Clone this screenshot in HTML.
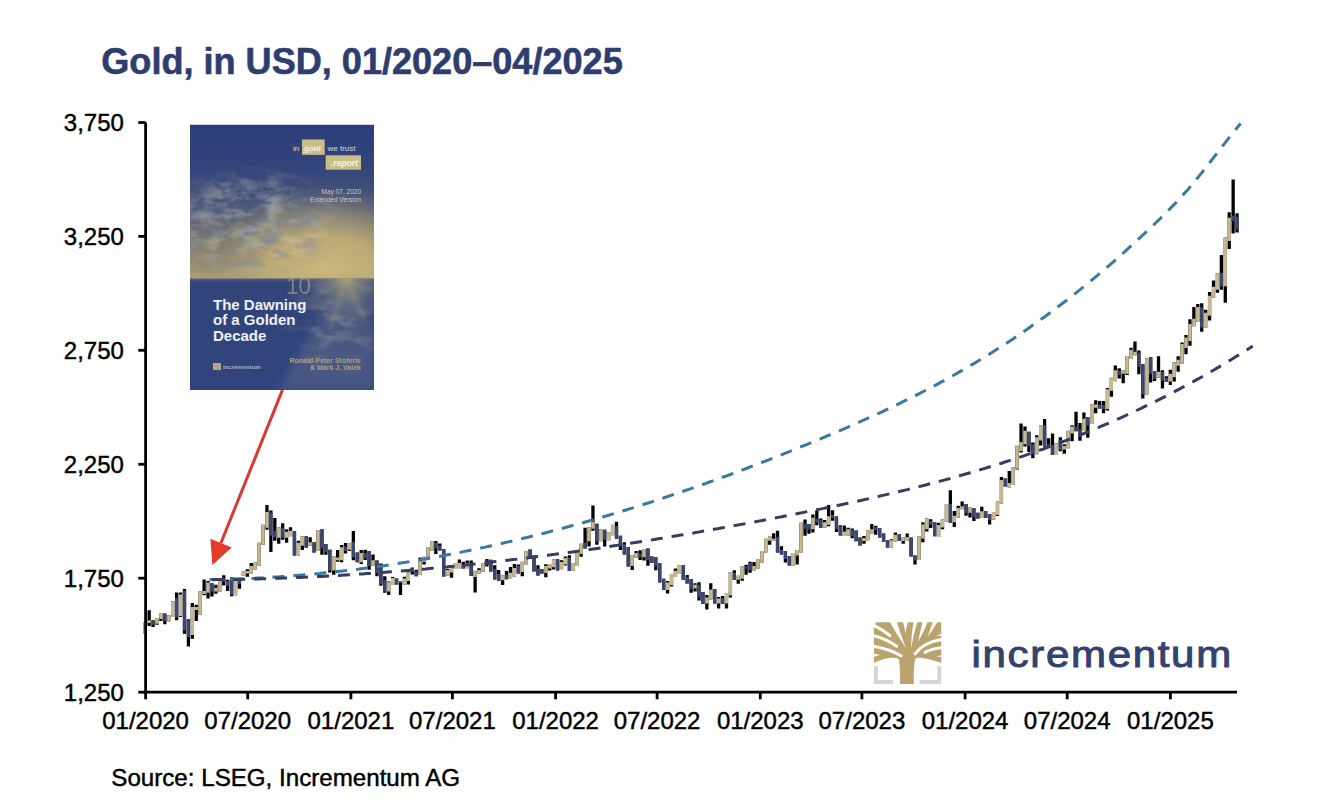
<!DOCTYPE html>
<html><head><meta charset="utf-8"><style>html,body{margin:0;padding:0;background:#fff}svg{display:block}</style></head>
<body>
<svg width="1338" height="806" viewBox="0 0 1338 806">
<rect width="1338" height="806" fill="#fff"/>
<text x="101.3" y="73.7" font-family="Liberation Sans" font-weight="bold" font-size="36.1" fill="#2f3d6e" stroke="#2f3d6e" stroke-width="0.6">Gold, in USD, 01/2020–04/2025</text>
<text x="123.9" y="131.0" text-anchor="end" font-family="Liberation Sans" font-size="24" fill="#000" stroke="#000" stroke-width="0.45">3,750</text>
<text x="123.9" y="244.9" text-anchor="end" font-family="Liberation Sans" font-size="24" fill="#000" stroke="#000" stroke-width="0.45">3,250</text>
<text x="123.9" y="358.8" text-anchor="end" font-family="Liberation Sans" font-size="24" fill="#000" stroke="#000" stroke-width="0.45">2,750</text>
<text x="123.9" y="472.8" text-anchor="end" font-family="Liberation Sans" font-size="24" fill="#000" stroke="#000" stroke-width="0.45">2,250</text>
<text x="123.9" y="586.7" text-anchor="end" font-family="Liberation Sans" font-size="24" fill="#000" stroke="#000" stroke-width="0.45">1,750</text>
<text x="123.9" y="700.7" text-anchor="end" font-family="Liberation Sans" font-size="24" fill="#000" stroke="#000" stroke-width="0.45">1,250</text>
<text x="145.6" y="728.8" text-anchor="middle" font-family="Liberation Sans" font-size="24" fill="#000" stroke="#000" stroke-width="0.45">01/2020</text>
<text x="247.7" y="728.8" text-anchor="middle" font-family="Liberation Sans" font-size="24" fill="#000" stroke="#000" stroke-width="0.45">07/2020</text>
<text x="350.9" y="728.8" text-anchor="middle" font-family="Liberation Sans" font-size="24" fill="#000" stroke="#000" stroke-width="0.45">01/2021</text>
<text x="452.4" y="728.8" text-anchor="middle" font-family="Liberation Sans" font-size="24" fill="#000" stroke="#000" stroke-width="0.45">07/2021</text>
<text x="555.6" y="728.8" text-anchor="middle" font-family="Liberation Sans" font-size="24" fill="#000" stroke="#000" stroke-width="0.45">01/2022</text>
<text x="657.1" y="728.8" text-anchor="middle" font-family="Liberation Sans" font-size="24" fill="#000" stroke="#000" stroke-width="0.45">07/2022</text>
<text x="760.3" y="728.8" text-anchor="middle" font-family="Liberation Sans" font-size="24" fill="#000" stroke="#000" stroke-width="0.45">01/2023</text>
<text x="861.9" y="728.8" text-anchor="middle" font-family="Liberation Sans" font-size="24" fill="#000" stroke="#000" stroke-width="0.45">07/2023</text>
<text x="965.1" y="728.8" text-anchor="middle" font-family="Liberation Sans" font-size="24" fill="#000" stroke="#000" stroke-width="0.45">01/2024</text>
<text x="1067.2" y="728.8" text-anchor="middle" font-family="Liberation Sans" font-size="24" fill="#000" stroke="#000" stroke-width="0.45">07/2024</text>
<text x="1170.4" y="728.8" text-anchor="middle" font-family="Liberation Sans" font-size="24" fill="#000" stroke="#000" stroke-width="0.45">01/2025</text>
<text x="111.3" y="786" font-family="Liberation Sans" font-size="24.15" fill="#000" stroke="#000" stroke-width="0.45">Source: LSEG, Incrementum AG</text>
<path d="M143.55,622.0h3.3V634.0h-3.3ZM147.48,610.3h3.3V626.0h-3.3ZM151.41,620.3h3.3V627.0h-3.3ZM155.33,618.0h3.3V624.8h-3.3ZM159.26,613.6h3.3V621.0h-3.3ZM163.19,613.6h3.3V624.2h-3.3ZM167.12,615.3h3.3V621.5h-3.3ZM171.04,601.3h3.3V617.0h-3.3ZM174.97,592.4h3.3V620.3h-3.3ZM178.90,592.4h3.3V617.0h-3.3ZM182.83,589.0h3.3V633.7h-3.3ZM186.75,619.2h3.3V646.6h-3.3ZM190.68,603.0h3.3V638.8h-3.3ZM194.61,604.7h3.3V621.0h-3.3ZM198.54,591.3h3.3V614.7h-3.3ZM202.46,579.5h3.3V595.3h-3.3ZM206.39,581.0h3.3V598.4h-3.3ZM210.32,583.2h3.3V596.6h-3.3ZM214.25,584.8h3.3V593.8h-3.3ZM218.17,579.8h3.3V591.6h-3.3ZM222.10,575.2h3.3V585.4h-3.3ZM226.03,579.8h3.3V591.0h-3.3ZM229.96,577.3h3.3V596.3h-3.3ZM233.88,578.6h3.3V595.3h-3.3ZM237.81,579.2h3.3V588.8h-3.3ZM241.74,571.4h3.3V575.5h-3.3ZM245.67,569.3h3.3V576.7h-3.3ZM249.60,563.0h3.3V573.6h-3.3ZM253.52,562.5h3.3V569.5h-3.3ZM257.45,542.7h3.3V565.5h-3.3ZM261.38,524.8h3.3V544.7h-3.3ZM265.31,505.0h3.3V529.8h-3.3ZM269.23,510.4h3.3V552.1h-3.3ZM273.16,517.9h3.3V540.7h-3.3ZM277.09,527.3h3.3V543.7h-3.3ZM281.02,523.3h3.3V539.7h-3.3ZM284.94,529.3h3.3V542.7h-3.3ZM288.87,527.3h3.3V536.2h-3.3ZM292.80,531.3h3.3V555.6h-3.3ZM296.73,540.7h3.3V555.6h-3.3ZM300.65,536.2h3.3V550.1h-3.3ZM304.58,536.2h3.3V547.7h-3.3ZM308.51,537.2h3.3V545.7h-3.3ZM312.44,542.2h3.3V552.6h-3.3ZM316.36,530.1h3.3V550.6h-3.3ZM320.29,529.2h3.3V554.8h-3.3ZM324.22,544.1h3.3V554.8h-3.3ZM328.15,549.7h3.3V572.4h-3.3ZM332.07,556.2h3.3V574.8h-3.3ZM336.00,550.1h3.3V561.7h-3.3ZM339.93,545.0h3.3V562.2h-3.3ZM343.86,543.1h3.3V553.4h-3.3ZM347.79,543.6h3.3V551.0h-3.3ZM351.71,531.0h3.3V560.3h-3.3ZM355.64,552.4h3.3V562.2h-3.3ZM359.57,550.1h3.3V564.0h-3.3ZM363.50,549.7h3.3V559.9h-3.3ZM367.42,551.0h3.3V569.7h-3.3ZM371.35,554.5h3.3V565.4h-3.3ZM375.28,560.6h3.3V576.2h-3.3ZM379.21,563.6h3.3V585.8h-3.3ZM383.13,576.2h3.3V592.7h-3.3ZM387.06,581.4h3.3V594.9h-3.3ZM390.99,577.1h3.3V584.9h-3.3ZM394.92,578.4h3.3V584.5h-3.3ZM398.84,581.4h3.3V594.9h-3.3ZM402.77,576.7h3.3V584.5h-3.3ZM406.70,572.3h3.3V584.5h-3.3ZM410.63,567.6h3.3V574.5h-3.3ZM414.55,569.7h3.3V576.2h-3.3ZM418.48,557.6h3.3V575.0h-3.3ZM422.41,556.7h3.3V564.5h-3.3ZM426.34,547.2h3.3V556.7h-3.3ZM430.26,541.3h3.3V550.4h-3.3ZM434.19,540.9h3.3V553.9h-3.3ZM438.12,543.5h3.3V550.4h-3.3ZM442.05,549.1h3.3V576.4h-3.3ZM445.98,569.1h3.3V575.6h-3.3ZM449.90,565.6h3.3V577.7h-3.3ZM453.83,563.0h3.3V569.1h-3.3ZM457.76,559.5h3.3V568.2h-3.3ZM461.69,561.7h3.3V568.6h-3.3ZM465.61,560.4h3.3V568.2h-3.3ZM469.54,560.4h3.3V576.0h-3.3ZM473.47,570.8h3.3V592.5h-3.3ZM477.40,568.2h3.3V573.4h-3.3ZM481.32,563.0h3.3V571.7h-3.3ZM485.25,559.1h3.3V566.6h-3.3ZM489.18,559.8h3.3V571.4h-3.3ZM493.11,565.3h3.3V579.6h-3.3ZM497.03,570.0h3.3V581.0h-3.3ZM500.96,575.2h3.3V585.0h-3.3ZM504.89,571.0h3.3V579.2h-3.3ZM508.82,567.0h3.3V578.9h-3.3ZM512.74,563.9h3.3V576.5h-3.3ZM516.67,564.6h3.3V573.4h-3.3ZM520.60,561.8h3.3V576.2h-3.3ZM524.53,551.3h3.3V564.6h-3.3ZM528.45,549.6h3.3V558.4h-3.3ZM532.38,555.4h3.3V571.4h-3.3ZM536.31,565.3h3.3V575.5h-3.3ZM540.24,569.2h3.3V573.5h-3.3ZM544.17,564.2h3.3V577.2h-3.3ZM548.09,563.9h3.3V570.4h-3.3ZM552.02,559.2h3.3V569.5h-3.3ZM555.95,559.2h3.3V570.4h-3.3ZM559.88,560.2h3.3V569.2h-3.3ZM563.80,556.4h3.3V565.4h-3.3ZM567.73,555.2h3.3V571.0h-3.3ZM571.66,563.3h3.3V570.4h-3.3ZM575.59,552.7h3.3V566.0h-3.3ZM579.51,543.7h3.3V556.7h-3.3ZM583.44,527.8h3.3V548.6h-3.3ZM587.37,527.3h3.3V546.6h-3.3ZM591.30,505.4h3.3V530.8h-3.3ZM595.22,523.8h3.3V544.7h-3.3ZM599.15,529.3h3.3V541.2h-3.3ZM603.08,529.8h3.3V546.6h-3.3ZM607.01,532.2h3.3V540.2h-3.3ZM610.93,524.8h3.3V535.2h-3.3ZM614.86,521.8h3.3V538.7h-3.3ZM618.79,535.7h3.3V550.1h-3.3ZM622.72,542.2h3.3V554.6h-3.3ZM626.64,547.1h3.3V566.5h-3.3ZM630.57,555.6h3.3V570.0h-3.3ZM634.50,551.1h3.3V557.6h-3.3ZM638.43,550.3h3.3V560.1h-3.3ZM642.36,549.4h3.3V560.6h-3.3ZM646.28,548.5h3.3V565.7h-3.3ZM650.21,556.4h3.3V562.9h-3.3ZM654.14,557.3h3.3V570.3h-3.3ZM658.07,562.9h3.3V582.4h-3.3ZM661.99,578.7h3.3V589.9h-3.3ZM665.92,581.0h3.3V593.6h-3.3ZM669.85,574.1h3.3V586.6h-3.3ZM673.78,568.5h3.3V577.0h-3.3ZM677.70,565.2h3.3V574.1h-3.3ZM681.63,565.2h3.3V579.7h-3.3ZM685.56,575.0h3.3V583.4h-3.3ZM689.49,579.2h3.3V592.7h-3.3ZM693.41,583.2h3.3V591.6h-3.3ZM697.34,582.2h3.3V600.5h-3.3ZM701.27,592.1h3.3V604.0h-3.3ZM705.20,595.1h3.3V609.5h-3.3ZM709.12,583.2h3.3V599.5h-3.3ZM713.05,589.1h3.3V603.5h-3.3ZM716.98,597.1h3.3V608.5h-3.3ZM720.91,596.1h3.3V604.0h-3.3ZM724.83,593.1h3.3V608.5h-3.3ZM728.76,572.2h3.3V597.6h-3.3ZM732.69,570.3h3.3V579.7h-3.3ZM736.62,575.7h3.3V583.7h-3.3ZM740.55,566.3h3.3V580.7h-3.3ZM744.47,564.8h3.3V574.7h-3.3ZM748.40,561.8h3.3V572.7h-3.3ZM752.33,562.0h3.3V570.5h-3.3ZM756.26,559.6h3.3V568.5h-3.3ZM760.18,551.1h3.3V562.6h-3.3ZM764.11,538.7h3.3V552.6h-3.3ZM768.04,536.2h3.3V544.7h-3.3ZM771.97,533.3h3.3V540.7h-3.3ZM775.89,530.8h3.3V552.6h-3.3ZM779.82,546.2h3.3V554.6h-3.3ZM783.75,551.1h3.3V562.6h-3.3ZM787.68,556.1h3.3V565.5h-3.3ZM791.60,553.1h3.3V565.5h-3.3ZM795.53,550.1h3.3V564.5h-3.3ZM799.46,522.8h3.3V552.6h-3.3ZM803.39,519.4h3.3V535.8h-3.3ZM807.31,524.0h3.3V533.7h-3.3ZM811.24,514.4h3.3V532.6h-3.3ZM815.17,510.6h3.3V525.2h-3.3ZM819.10,518.5h3.3V527.8h-3.3ZM823.02,520.0h3.3V527.4h-3.3ZM826.95,505.0h3.3V526.3h-3.3ZM830.88,510.3h3.3V520.7h-3.3ZM834.81,516.6h3.3V531.9h-3.3ZM838.74,525.2h3.3V535.6h-3.3ZM842.66,525.5h3.3V536.0h-3.3ZM846.59,527.8h3.3V535.6h-3.3ZM850.52,528.5h3.3V538.2h-3.3ZM854.45,530.4h3.3V541.2h-3.3ZM858.37,537.4h3.3V545.6h-3.3ZM862.30,535.9h3.3V543.7h-3.3ZM866.23,530.3h3.3V540.3h-3.3ZM870.16,524.1h3.3V533.6h-3.3ZM874.08,525.8h3.3V534.7h-3.3ZM878.01,528.0h3.3V537.5h-3.3ZM881.94,533.6h3.3V542.0h-3.3ZM885.87,540.3h3.3V547.6h-3.3ZM889.79,539.2h3.3V547.6h-3.3ZM893.72,532.5h3.3V541.5h-3.3ZM897.65,534.2h3.3V540.9h-3.3ZM901.58,537.5h3.3V543.7h-3.3ZM905.50,533.6h3.3V540.9h-3.3ZM909.43,537.5h3.3V556.5h-3.3ZM913.36,555.4h3.3V564.4h-3.3ZM917.29,536.3h3.3V559.9h-3.3ZM921.21,522.2h3.3V542.2h-3.3ZM925.14,518.6h3.3V531.6h-3.3ZM929.07,519.2h3.3V528.0h-3.3ZM933.00,522.2h3.3V536.3h-3.3ZM936.93,522.8h3.3V536.9h-3.3ZM940.85,519.2h3.3V529.2h-3.3ZM944.78,503.9h3.3V521.6h-3.3ZM948.71,490.3h3.3V522.8h-3.3ZM952.64,511.0h3.3V526.9h-3.3ZM956.56,505.7h3.3V517.5h-3.3ZM960.49,501.5h3.3V509.2h-3.3ZM964.42,503.9h3.3V515.7h-3.3ZM968.35,507.4h3.3V517.5h-3.3ZM972.27,508.2h3.3V520.9h-3.3ZM976.20,512.7h3.3V518.6h-3.3ZM980.13,506.7h3.3V517.9h-3.3ZM984.06,511.2h3.3V517.9h-3.3ZM987.98,514.2h3.3V524.6h-3.3ZM991.91,511.9h3.3V519.4h-3.3ZM995.84,501.5h3.3V516.0h-3.3ZM999.77,477.0h3.3V503.8h-3.3ZM1003.69,478.5h3.3V486.6h-3.3ZM1007.62,471.0h3.3V487.4h-3.3ZM1011.55,467.3h3.3V484.4h-3.3ZM1015.48,445.7h3.3V469.5h-3.3ZM1019.40,423.4h3.3V452.4h-3.3ZM1023.33,426.4h3.3V446.5h-3.3ZM1027.26,431.7h3.3V452.1h-3.3ZM1031.19,442.5h3.3V458.2h-3.3ZM1035.12,435.2h3.3V454.3h-3.3ZM1039.04,425.2h3.3V445.6h-3.3ZM1042.97,419.1h3.3V446.9h-3.3ZM1046.90,438.2h3.3V447.3h-3.3ZM1050.83,433.4h3.3V455.1h-3.3ZM1054.75,443.4h3.3V455.1h-3.3ZM1058.68,437.3h3.3V451.2h-3.3ZM1062.61,444.3h3.3V453.8h-3.3ZM1066.54,430.8h3.3V448.2h-3.3ZM1070.46,425.2h3.3V441.2h-3.3ZM1074.39,411.7h3.3V431.3h-3.3ZM1078.32,423.0h3.3V440.8h-3.3ZM1082.25,412.5h3.3V431.0h-3.3ZM1086.17,417.3h3.3V437.8h-3.3ZM1090.10,404.4h3.3V424.1h-3.3ZM1094.03,400.3h3.3V413.2h-3.3ZM1097.96,400.9h3.3V408.4h-3.3ZM1101.88,400.9h3.3V413.2h-3.3ZM1105.81,388.0h3.3V410.5h-3.3ZM1109.74,377.7h3.3V396.8h-3.3ZM1113.67,365.5h3.3V381.2h-3.3ZM1117.59,368.2h3.3V378.4h-3.3ZM1121.52,370.2h3.3V383.2h-3.3ZM1125.45,355.9h3.3V375.0h-3.3ZM1129.38,347.7h3.3V358.6h-3.3ZM1133.31,341.6h3.3V355.2h-3.3ZM1137.23,350.4h3.3V374.2h-3.3ZM1141.16,364.3h3.3V398.5h-3.3ZM1145.09,358.3h3.3V394.5h-3.3ZM1149.02,357.3h3.3V382.6h-3.3ZM1152.94,371.2h3.3V381.1h-3.3ZM1156.87,356.3h3.3V377.7h-3.3ZM1160.80,370.2h3.3V388.6h-3.3ZM1164.73,376.2h3.3V382.1h-3.3ZM1168.65,369.7h3.3V385.1h-3.3ZM1172.58,362.3h3.3V381.6h-3.3ZM1176.51,356.3h3.3V371.7h-3.3ZM1180.44,342.4h3.3V363.8h-3.3ZM1184.36,335.0h3.3V354.3h-3.3ZM1188.29,319.3h3.3V345.8h-3.3ZM1192.22,306.9h3.3V326.3h-3.3ZM1196.15,303.9h3.3V321.6h-3.3ZM1200.07,303.3h3.3V331.7h-3.3ZM1204.00,309.8h3.3V327.5h-3.3ZM1207.93,292.1h3.3V320.4h-3.3ZM1211.86,280.4h3.3V297.5h-3.3ZM1215.78,273.3h3.3V292.7h-3.3ZM1219.71,255.0h3.3V289.8h-3.3ZM1223.64,237.5h3.3V302.8h-3.3ZM1227.57,212.2h3.3V248.9h-3.3ZM1231.50,179.4h3.3V233.6h-3.3ZM1235.42,213.2h3.3V232.6h-3.3Z" fill="#000"/>
<path d="M143.55,622.0h3.3V634.0h-3.3ZM147.48,620.3h3.3V623.1h-3.3ZM155.33,618.0h3.3V623.7h-3.3ZM159.26,613.6h3.3V619.0h-3.3ZM167.12,615.3h3.3V621.5h-3.3ZM171.04,601.3h3.3V617.0h-3.3ZM178.90,594.6h3.3V615.9h-3.3ZM190.68,607.0h3.3V634.9h-3.3ZM194.61,607.0h3.3V610.0h-3.3ZM198.54,591.3h3.3V614.7h-3.3ZM202.46,591.0h3.3V594.0h-3.3ZM206.39,582.6h3.3V592.8h-3.3ZM214.25,587.9h3.3V591.6h-3.3ZM218.17,579.8h3.3V591.6h-3.3ZM233.88,581.0h3.3V595.3h-3.3ZM241.74,571.4h3.3V575.5h-3.3ZM245.67,571.0h3.3V573.6h-3.3ZM249.60,565.9h3.3V573.6h-3.3ZM253.52,562.5h3.3V569.5h-3.3ZM257.45,542.7h3.3V565.5h-3.3ZM261.38,524.8h3.3V544.7h-3.3ZM265.31,511.9h3.3V527.8h-3.3ZM277.09,527.3h3.3V537.7h-3.3ZM284.94,531.8h3.3V537.7h-3.3ZM288.87,530.8h3.3V536.2h-3.3ZM296.73,542.7h3.3V555.6h-3.3ZM300.65,536.2h3.3V545.7h-3.3ZM308.51,542.2h3.3V545.7h-3.3ZM316.36,530.1h3.3V550.6h-3.3ZM332.07,556.2h3.3V570.6h-3.3ZM336.00,557.6h3.3V560.3h-3.3ZM339.93,547.3h3.3V560.3h-3.3ZM347.79,543.6h3.3V549.7h-3.3ZM359.57,552.9h3.3V562.2h-3.3ZM371.35,560.2h3.3V565.4h-3.3ZM387.06,582.3h3.3V591.4h-3.3ZM390.99,578.0h3.3V584.9h-3.3ZM402.77,578.4h3.3V584.5h-3.3ZM406.70,572.3h3.3V581.0h-3.3ZM418.48,559.3h3.3V575.0h-3.3ZM422.41,556.7h3.3V561.9h-3.3ZM426.34,547.2h3.3V556.7h-3.3ZM430.26,541.3h3.3V550.4h-3.3ZM445.98,570.0h3.3V575.6h-3.3ZM449.90,565.6h3.3V572.5h-3.3ZM453.83,563.0h3.3V569.1h-3.3ZM457.76,563.0h3.3V568.2h-3.3ZM465.61,563.0h3.3V568.2h-3.3ZM473.47,570.8h3.3V576.9h-3.3ZM477.40,570.0h3.3V573.4h-3.3ZM481.32,563.0h3.3V571.7h-3.3ZM500.96,575.2h3.3V580.3h-3.3ZM508.82,572.8h3.3V578.9h-3.3ZM512.74,568.0h3.3V576.5h-3.3ZM520.60,561.8h3.3V572.1h-3.3ZM524.53,551.3h3.3V564.6h-3.3ZM544.17,566.0h3.3V572.9h-3.3ZM548.09,563.9h3.3V568.5h-3.3ZM552.02,559.2h3.3V567.3h-3.3ZM559.88,562.0h3.3V569.2h-3.3ZM563.80,558.0h3.3V564.5h-3.3ZM571.66,563.3h3.3V570.4h-3.3ZM575.59,552.7h3.3V566.0h-3.3ZM579.51,543.7h3.3V554.0h-3.3ZM587.37,527.3h3.3V541.2h-3.3ZM591.30,521.8h3.3V528.8h-3.3ZM599.15,529.3h3.3V541.2h-3.3ZM607.01,532.2h3.3V540.2h-3.3ZM610.93,524.8h3.3V535.2h-3.3ZM630.57,555.6h3.3V566.0h-3.3ZM634.50,553.1h3.3V557.6h-3.3ZM642.36,549.4h3.3V557.3h-3.3ZM665.92,582.4h3.3V589.9h-3.3ZM669.85,574.1h3.3V585.2h-3.3ZM673.78,570.8h3.3V576.9h-3.3ZM677.70,565.2h3.3V574.1h-3.3ZM693.41,584.7h3.3V588.6h-3.3ZM705.20,597.6h3.3V603.5h-3.3ZM709.12,589.6h3.3V599.5h-3.3ZM716.98,598.6h3.3V603.5h-3.3ZM724.83,593.1h3.3V603.5h-3.3ZM728.76,572.2h3.3V595.6h-3.3ZM736.62,575.7h3.3V579.7h-3.3ZM740.55,566.3h3.3V578.7h-3.3ZM752.33,566.0h3.3V570.5h-3.3ZM756.26,559.6h3.3V568.5h-3.3ZM760.18,551.1h3.3V562.6h-3.3ZM764.11,538.7h3.3V552.6h-3.3ZM768.04,536.2h3.3V540.7h-3.3ZM771.97,538.7h3.3V540.7h-3.3ZM791.60,553.1h3.3V565.5h-3.3ZM795.53,550.1h3.3V555.6h-3.3ZM799.46,522.8h3.3V552.6h-3.3ZM811.24,517.7h3.3V529.3h-3.3ZM823.02,522.2h3.3V527.4h-3.3ZM826.95,516.2h3.3V524.8h-3.3ZM842.66,531.5h3.3V536.0h-3.3ZM846.59,529.3h3.3V535.6h-3.3ZM862.30,538.1h3.3V540.9h-3.3ZM866.23,530.3h3.3V540.3h-3.3ZM870.16,529.2h3.3V533.6h-3.3ZM889.79,540.3h3.3V547.6h-3.3ZM893.72,534.7h3.3V541.5h-3.3ZM901.58,537.5h3.3V540.9h-3.3ZM905.50,537.0h3.3V540.9h-3.3ZM917.29,536.3h3.3V559.9h-3.3ZM921.21,524.5h3.3V538.7h-3.3ZM925.14,518.6h3.3V529.2h-3.3ZM936.93,525.1h3.3V536.9h-3.3ZM940.85,519.2h3.3V527.5h-3.3ZM944.78,503.9h3.3V521.6h-3.3ZM952.64,515.7h3.3V522.2h-3.3ZM956.56,508.0h3.3V517.5h-3.3ZM960.49,506.2h3.3V509.2h-3.3ZM968.35,507.4h3.3V512.7h-3.3ZM980.13,511.2h3.3V517.9h-3.3ZM991.91,511.9h3.3V519.4h-3.3ZM995.84,501.5h3.3V514.9h-3.3ZM999.77,480.0h3.3V503.8h-3.3ZM1007.62,482.9h3.3V487.4h-3.3ZM1011.55,467.3h3.3V484.4h-3.3ZM1015.48,445.7h3.3V468.8h-3.3ZM1019.40,442.0h3.3V451.0h-3.3ZM1023.33,430.8h3.3V444.2h-3.3ZM1035.12,437.3h3.3V454.3h-3.3ZM1039.04,425.2h3.3V440.4h-3.3ZM1054.75,443.4h3.3V455.1h-3.3ZM1062.61,446.0h3.3V449.5h-3.3ZM1066.54,430.8h3.3V448.2h-3.3ZM1070.46,426.5h3.3V433.4h-3.3ZM1082.25,418.7h3.3V431.0h-3.3ZM1090.10,404.4h3.3V424.1h-3.3ZM1094.03,404.4h3.3V407.8h-3.3ZM1105.81,389.3h3.3V409.1h-3.3ZM1109.74,377.7h3.3V390.7h-3.3ZM1113.67,370.2h3.3V381.2h-3.3ZM1121.52,370.2h3.3V373.7h-3.3ZM1125.45,355.9h3.3V373.7h-3.3ZM1129.38,349.8h3.3V358.6h-3.3ZM1133.31,351.8h3.3V355.2h-3.3ZM1145.09,358.3h3.3V394.5h-3.3ZM1156.87,371.7h3.3V377.7h-3.3ZM1168.65,373.7h3.3V381.6h-3.3ZM1172.58,362.3h3.3V377.2h-3.3ZM1176.51,359.8h3.3V365.7h-3.3ZM1180.44,343.9h3.3V363.8h-3.3ZM1184.36,337.4h3.3V347.9h-3.3ZM1188.29,324.0h3.3V341.1h-3.3ZM1192.22,318.7h3.3V326.3h-3.3ZM1196.15,306.9h3.3V321.6h-3.3ZM1204.00,312.8h3.3V327.5h-3.3ZM1207.93,295.7h3.3V315.7h-3.3ZM1211.86,286.8h3.3V297.5h-3.3ZM1215.78,273.3h3.3V289.8h-3.3ZM1223.64,237.5h3.3V286.2h-3.3ZM1227.57,217.7h3.3V241.0h-3.3Z" fill="#c7b893"/>
<path d="M151.41,620.3h3.3V624.8h-3.3ZM163.19,613.6h3.3V621.0h-3.3ZM174.97,598.0h3.3V617.5h-3.3ZM182.83,590.7h3.3V630.4h-3.3ZM186.75,620.3h3.3V637.0h-3.3ZM210.32,583.2h3.3V591.6h-3.3ZM222.10,578.0h3.3V581.7h-3.3ZM226.03,581.0h3.3V586.0h-3.3ZM229.96,577.3h3.3V594.7h-3.3ZM237.81,579.2h3.3V584.0h-3.3ZM269.23,512.4h3.3V535.7h-3.3ZM273.16,531.0h3.3V537.0h-3.3ZM281.02,527.8h3.3V537.7h-3.3ZM292.80,531.3h3.3V555.6h-3.3ZM304.58,536.2h3.3V547.7h-3.3ZM312.44,542.2h3.3V552.6h-3.3ZM320.29,529.2h3.3V548.3h-3.3ZM324.22,544.1h3.3V552.0h-3.3ZM328.15,549.7h3.3V570.6h-3.3ZM343.86,546.4h3.3V551.0h-3.3ZM351.71,541.7h3.3V557.6h-3.3ZM355.64,552.4h3.3V562.2h-3.3ZM363.50,552.9h3.3V558.5h-3.3ZM367.42,551.0h3.3V565.9h-3.3ZM375.28,560.6h3.3V573.2h-3.3ZM379.21,565.0h3.3V584.5h-3.3ZM383.13,580.1h3.3V591.4h-3.3ZM394.92,578.4h3.3V584.5h-3.3ZM398.84,581.4h3.3V583.0h-3.3ZM410.63,568.0h3.3V572.0h-3.3ZM414.55,571.5h3.3V576.2h-3.3ZM434.19,543.0h3.3V548.2h-3.3ZM438.12,545.6h3.3V550.4h-3.3ZM442.05,549.1h3.3V576.4h-3.3ZM461.69,564.7h3.3V568.6h-3.3ZM469.54,563.0h3.3V576.0h-3.3ZM485.25,560.5h3.3V565.0h-3.3ZM489.18,559.8h3.3V571.4h-3.3ZM493.11,568.7h3.3V579.6h-3.3ZM497.03,574.1h3.3V581.0h-3.3ZM504.89,574.8h3.3V579.2h-3.3ZM516.67,566.0h3.3V573.4h-3.3ZM528.45,549.6h3.3V558.4h-3.3ZM532.38,555.4h3.3V571.4h-3.3ZM536.31,568.7h3.3V575.5h-3.3ZM540.24,569.2h3.3V573.5h-3.3ZM555.95,559.2h3.3V570.4h-3.3ZM567.73,557.4h3.3V571.0h-3.3ZM583.44,542.7h3.3V548.6h-3.3ZM595.22,523.8h3.3V541.2h-3.3ZM603.08,529.8h3.3V539.7h-3.3ZM614.86,526.3h3.3V538.7h-3.3ZM618.79,535.7h3.3V546.6h-3.3ZM622.72,544.2h3.3V554.6h-3.3ZM626.64,547.1h3.3V566.5h-3.3ZM638.43,554.1h3.3V556.9h-3.3ZM646.28,548.5h3.3V560.1h-3.3ZM650.21,556.4h3.3V562.9h-3.3ZM654.14,557.3h3.3V566.2h-3.3ZM658.07,562.9h3.3V582.4h-3.3ZM661.99,578.7h3.3V589.9h-3.3ZM681.63,565.2h3.3V579.7h-3.3ZM685.56,577.3h3.3V583.4h-3.3ZM689.49,579.2h3.3V589.0h-3.3ZM697.34,584.7h3.3V597.6h-3.3ZM701.27,592.1h3.3V604.0h-3.3ZM713.05,589.1h3.3V603.5h-3.3ZM720.91,598.0h3.3V604.0h-3.3ZM732.69,572.7h3.3V579.7h-3.3ZM744.47,566.8h3.3V568.8h-3.3ZM748.40,563.0h3.3V570.0h-3.3ZM775.89,536.7h3.3V552.6h-3.3ZM779.82,549.7h3.3V554.6h-3.3ZM783.75,551.1h3.3V559.1h-3.3ZM787.68,556.1h3.3V565.5h-3.3ZM803.39,523.8h3.3V528.8h-3.3ZM807.31,524.0h3.3V529.3h-3.3ZM815.17,518.8h3.3V522.6h-3.3ZM819.10,520.0h3.3V527.8h-3.3ZM830.88,515.0h3.3V518.0h-3.3ZM834.81,516.6h3.3V529.3h-3.3ZM838.74,525.2h3.3V535.6h-3.3ZM850.52,530.0h3.3V536.0h-3.3ZM854.45,530.4h3.3V541.2h-3.3ZM858.37,537.4h3.3V545.6h-3.3ZM874.08,527.0h3.3V530.3h-3.3ZM878.01,528.0h3.3V537.5h-3.3ZM881.94,533.6h3.3V542.0h-3.3ZM885.87,540.3h3.3V547.6h-3.3ZM897.65,534.2h3.3V540.9h-3.3ZM909.43,537.5h3.3V556.5h-3.3ZM913.36,555.4h3.3V560.4h-3.3ZM929.07,521.0h3.3V524.5h-3.3ZM933.00,522.2h3.3V536.3h-3.3ZM948.71,503.9h3.3V522.8h-3.3ZM964.42,503.9h3.3V513.3h-3.3ZM972.27,508.2h3.3V517.1h-3.3ZM976.20,512.7h3.3V518.6h-3.3ZM984.06,511.2h3.3V517.9h-3.3ZM987.98,514.2h3.3V520.1h-3.3ZM1003.69,478.5h3.3V486.6h-3.3ZM1027.26,431.7h3.3V446.0h-3.3ZM1031.19,444.3h3.3V454.3h-3.3ZM1042.97,425.2h3.3V446.9h-3.3ZM1046.90,444.3h3.3V447.3h-3.3ZM1050.83,445.1h3.3V455.1h-3.3ZM1058.68,439.9h3.3V450.3h-3.3ZM1074.39,426.9h3.3V431.3h-3.3ZM1078.32,429.5h3.3V436.5h-3.3ZM1086.17,417.3h3.3V425.5h-3.3ZM1097.96,404.4h3.3V408.4h-3.3ZM1101.88,405.0h3.3V409.0h-3.3ZM1117.59,370.9h3.3V375.0h-3.3ZM1137.23,352.8h3.3V366.7h-3.3ZM1141.16,364.3h3.3V394.5h-3.3ZM1149.02,357.3h3.3V373.7h-3.3ZM1152.94,371.2h3.3V378.7h-3.3ZM1160.80,371.7h3.3V380.6h-3.3ZM1164.73,377.7h3.3V382.1h-3.3ZM1200.07,306.9h3.3V327.5h-3.3ZM1219.71,272.7h3.3V286.8h-3.3ZM1231.50,216.0h3.3V221.0h-3.3ZM1235.42,216.7h3.3V229.6h-3.3Z" fill="#3c4670"/>
<path d="M209.5,579.6 L212.9,579.6 L216.4,579.5 L219.8,579.5 L223.3,579.4 L226.7,579.3 L230.2,579.2 L233.6,579.1 L237.1,579.0 L240.5,578.9 L244.0,578.7 L247.4,578.6 L250.9,578.4 L254.3,578.3 L257.8,578.1 L261.2,577.9 L264.7,577.7 L268.1,577.5 L271.6,577.3 L275.0,577.1 L278.5,576.9 L281.9,576.6 L285.4,576.4 L288.8,576.2 L292.3,575.9 L295.7,575.6 L299.2,575.3 L302.6,575.0 L306.1,574.7 L309.5,574.4 L313.0,574.1 L316.4,573.8 L319.9,573.5 L323.3,573.1 L326.7,572.8 L330.2,572.4 L333.6,572.0 L337.1,571.6 L340.5,571.2 L344.0,570.8 L347.4,570.4 L350.9,570.0 L354.3,569.6 L357.8,569.2 L361.2,568.7 L364.7,568.3 L368.1,567.8 L371.6,567.3 L375.0,566.9 L378.5,566.4 L381.9,565.9 L385.4,565.4 L388.8,564.9 L392.3,564.3 L395.7,563.8 L399.2,563.3 L402.6,562.7 L406.1,562.2 L409.5,561.6 L413.0,561.0 L416.4,560.5 L419.9,559.9 L423.3,559.3 L426.8,558.7 L430.2,558.0 L433.7,557.4 L437.1,556.8 L440.5,556.2 L444.0,555.5 L447.4,554.8 L450.9,554.2 L454.3,553.5 L457.8,552.8 L461.2,552.1 L464.7,551.4 L468.1,550.7 L471.6,550.0 L475.0,549.3 L478.5,548.6 L481.9,547.8 L485.4,547.1 L488.8,546.3 L492.3,545.6 L495.7,544.8 L499.2,544.0 L502.6,543.2 L506.1,542.4 L509.5,541.6 L513.0,540.8 L516.4,540.0 L519.9,539.2 L523.3,538.3 L526.8,537.5 L530.2,536.6 L533.7,535.8 L537.1,534.9 L540.6,534.0 L544.0,533.2 L547.5,532.3 L550.9,531.4 L554.3,530.5 L557.8,529.6 L561.2,528.6 L564.7,527.7 L568.1,526.8 L571.6,525.8 L575.0,524.9 L578.5,523.9 L581.9,523.0 L585.4,522.0 L588.8,521.0 L592.3,520.0 L595.7,519.0 L599.2,518.0 L602.6,517.0 L606.1,516.0 L609.5,515.0 L613.0,513.9 L616.4,512.9 L619.9,511.8 L623.3,510.8 L626.8,509.7 L630.2,508.6 L633.7,507.6 L637.1,506.5 L640.6,505.4 L644.0,504.3 L647.5,503.2 L650.9,502.1 L654.4,500.9 L657.8,499.8 L661.3,498.7 L664.7,497.5 L668.1,496.4 L671.6,495.2 L675.0,494.1 L678.5,492.9 L681.9,491.7 L685.4,490.5 L688.8,489.3 L692.3,488.1 L695.7,486.9 L699.2,485.7 L702.6,484.5 L706.1,483.3 L709.5,482.0 L713.0,480.8 L716.4,479.6 L719.9,478.3 L723.3,477.0 L726.8,475.8 L730.2,474.5 L733.7,473.2 L737.1,471.9 L740.6,470.6 L744.0,469.3 L747.5,468.0 L750.9,466.7 L754.4,465.4 L757.8,464.1 L761.3,462.7 L764.7,461.4 L768.2,460.1 L771.6,458.7 L775.1,457.3 L778.5,456.0 L782.0,454.6 L785.4,453.2 L788.8,451.8 L792.3,450.4 L795.7,449.0 L799.2,447.6 L802.6,446.2 L806.1,444.8 L809.5,443.4 L813.0,442.0 L816.4,440.5 L819.9,439.1 L823.3,437.6 L826.8,436.2 L830.2,434.7 L833.7,433.2 L837.1,431.8 L840.6,430.3 L844.0,428.8 L847.5,427.3 L850.9,425.8 L854.4,424.3 L857.8,422.8 L861.3,421.2 L864.7,419.7 L868.2,418.1 L871.6,416.5 L875.1,415.0 L878.5,413.4 L882.0,411.8 L885.4,410.2 L888.9,408.5 L892.3,406.9 L895.8,405.3 L899.2,403.6 L902.6,401.9 L906.1,400.2 L909.5,398.5 L913.0,396.8 L916.4,395.1 L919.9,393.3 L923.3,391.5 L926.8,389.8 L930.2,388.0 L933.7,386.1 L937.1,384.3 L940.6,382.4 L944.0,380.6 L947.5,378.7 L950.9,376.8 L954.4,374.8 L957.8,372.9 L961.3,370.9 L964.7,368.9 L968.2,366.9 L971.6,364.9 L975.1,362.9 L978.5,360.8 L982.0,358.7 L985.4,356.6 L988.9,354.4 L992.3,352.3 L995.8,350.1 L999.2,347.9 L1002.7,345.7 L1006.1,343.4 L1009.6,341.2 L1013.0,338.9 L1016.4,336.5 L1019.9,334.2 L1023.3,331.8 L1026.8,329.5 L1030.2,327.1 L1033.7,324.6 L1037.1,322.2 L1040.6,319.7 L1044.0,317.2 L1047.5,314.7 L1050.9,312.1 L1054.4,309.5 L1057.8,306.9 L1061.3,304.3 L1064.7,301.7 L1068.2,299.0 L1071.6,296.3 L1075.1,293.6 L1078.5,290.9 L1082.0,288.1 L1085.4,285.3 L1088.9,282.5 L1092.3,279.7 L1095.8,276.8 L1099.2,273.9 L1102.7,271.0 L1106.1,268.0 L1109.6,265.1 L1113.0,262.1 L1116.5,259.1 L1119.9,256.0 L1123.4,253.0 L1126.8,249.9 L1130.2,246.7 L1133.7,243.6 L1137.1,240.4 L1140.6,237.2 L1144.0,234.0 L1147.5,230.7 L1150.9,227.5 L1154.4,224.2 L1157.8,220.8 L1161.3,217.5 L1164.7,214.1 L1168.2,210.6 L1171.6,207.1 L1175.1,203.6 L1178.5,199.9 L1182.0,196.2 L1185.4,192.3 L1188.9,188.4 L1192.3,184.3 L1195.8,180.1 L1199.2,175.9 L1202.7,171.6 L1206.1,167.2 L1209.6,162.8 L1213.0,158.4 L1216.5,153.9 L1219.9,149.4 L1223.4,145.0 L1226.8,140.6 L1230.3,136.2 L1233.7,131.9 L1237.2,127.6 L1240.6,123.5" fill="none" stroke="#3c78a0" stroke-width="3" stroke-dasharray="12 9"/>
<path d="M209.5,579.7 L213.0,579.7 L216.5,579.6 L220.0,579.6 L223.5,579.6 L226.9,579.5 L230.4,579.5 L233.9,579.4 L237.4,579.3 L240.9,579.3 L244.4,579.2 L247.9,579.1 L251.4,579.1 L254.9,579.0 L258.3,578.9 L261.8,578.8 L265.3,578.7 L268.8,578.6 L272.3,578.5 L275.8,578.3 L279.3,578.2 L282.8,578.1 L286.3,578.0 L289.7,577.8 L293.2,577.7 L296.7,577.5 L300.2,577.4 L303.7,577.2 L307.2,577.1 L310.7,576.9 L314.2,576.7 L317.7,576.6 L321.1,576.4 L324.6,576.2 L328.1,576.0 L331.6,575.8 L335.1,575.6 L338.6,575.4 L342.1,575.2 L345.6,575.0 L349.1,574.8 L352.5,574.6 L356.0,574.3 L359.5,574.1 L363.0,573.9 L366.5,573.6 L370.0,573.4 L373.5,573.1 L377.0,572.9 L380.5,572.6 L383.9,572.4 L387.4,572.1 L390.9,571.8 L394.4,571.5 L397.9,571.3 L401.4,571.0 L404.9,570.7 L408.4,570.4 L411.9,570.1 L415.3,569.8 L418.8,569.5 L422.3,569.2 L425.8,568.9 L429.3,568.5 L432.8,568.2 L436.3,567.9 L439.8,567.5 L443.3,567.2 L446.7,566.9 L450.2,566.5 L453.7,566.2 L457.2,565.8 L460.7,565.5 L464.2,565.1 L467.7,564.7 L471.2,564.4 L474.7,564.0 L478.2,563.6 L481.6,563.2 L485.1,562.8 L488.6,562.4 L492.1,562.0 L495.6,561.6 L499.1,561.2 L502.6,560.8 L506.1,560.4 L509.6,560.0 L513.0,559.6 L516.5,559.2 L520.0,558.7 L523.5,558.3 L527.0,557.9 L530.5,557.4 L534.0,557.0 L537.5,556.5 L541.0,556.1 L544.4,555.6 L547.9,555.2 L551.4,554.7 L554.9,554.3 L558.4,553.8 L561.9,553.3 L565.4,552.8 L568.9,552.4 L572.4,551.9 L575.8,551.4 L579.3,550.9 L582.8,550.4 L586.3,549.9 L589.8,549.4 L593.3,548.9 L596.8,548.4 L600.3,547.9 L603.8,547.4 L607.2,546.8 L610.7,546.3 L614.2,545.8 L617.7,545.3 L621.2,544.7 L624.7,544.2 L628.2,543.6 L631.7,543.1 L635.2,542.6 L638.6,542.0 L642.1,541.5 L645.6,540.9 L649.1,540.3 L652.6,539.8 L656.1,539.2 L659.6,538.6 L663.1,538.1 L666.6,537.5 L670.0,536.9 L673.5,536.3 L677.0,535.7 L680.5,535.1 L684.0,534.6 L687.5,534.0 L691.0,533.4 L694.5,532.8 L698.0,532.1 L701.4,531.5 L704.9,530.9 L708.4,530.3 L711.9,529.7 L715.4,529.1 L718.9,528.5 L722.4,527.8 L725.9,527.2 L729.4,526.6 L732.8,525.9 L736.3,525.3 L739.8,524.6 L743.3,524.0 L746.8,523.4 L750.3,522.7 L753.8,522.1 L757.3,521.4 L760.8,520.7 L764.2,520.1 L767.7,519.4 L771.2,518.7 L774.7,518.1 L778.2,517.4 L781.7,516.7 L785.2,516.1 L788.7,515.4 L792.2,514.7 L795.6,514.0 L799.1,513.3 L802.6,512.6 L806.1,511.9 L809.6,511.2 L813.1,510.5 L816.6,509.8 L820.1,509.1 L823.6,508.4 L827.0,507.7 L830.5,506.9 L834.0,506.2 L837.5,505.5 L841.0,504.7 L844.5,504.0 L848.0,503.2 L851.5,502.5 L855.0,501.7 L858.4,501.0 L861.9,500.2 L865.4,499.4 L868.9,498.6 L872.4,497.8 L875.9,497.0 L879.4,496.2 L882.9,495.4 L886.4,494.6 L889.8,493.8 L893.3,493.0 L896.8,492.1 L900.3,491.3 L903.8,490.4 L907.3,489.6 L910.8,488.7 L914.3,487.8 L917.8,487.0 L921.2,486.1 L924.7,485.2 L928.2,484.3 L931.7,483.4 L935.2,482.4 L938.7,481.5 L942.2,480.6 L945.7,479.6 L949.2,478.7 L952.6,477.7 L956.1,476.7 L959.6,475.7 L963.1,474.7 L966.6,473.7 L970.1,472.7 L973.6,471.7 L977.1,470.7 L980.6,469.6 L984.0,468.6 L987.5,467.5 L991.0,466.4 L994.5,465.4 L998.0,464.3 L1001.5,463.2 L1005.0,462.0 L1008.5,460.9 L1012.0,459.8 L1015.5,458.6 L1018.9,457.5 L1022.4,456.3 L1025.9,455.1 L1029.4,453.9 L1032.9,452.7 L1036.4,451.5 L1039.9,450.2 L1043.4,449.0 L1046.9,447.7 L1050.3,446.4 L1053.8,445.2 L1057.3,443.9 L1060.8,442.5 L1064.3,441.2 L1067.8,439.9 L1071.3,438.5 L1074.8,437.2 L1078.3,435.8 L1081.7,434.4 L1085.2,433.0 L1088.7,431.5 L1092.2,430.1 L1095.7,428.7 L1099.2,427.2 L1102.7,425.7 L1106.2,424.2 L1109.7,422.7 L1113.1,421.2 L1116.6,419.6 L1120.1,418.1 L1123.6,416.5 L1127.1,414.9 L1130.6,413.3 L1134.1,411.7 L1137.6,410.0 L1141.1,408.4 L1144.5,406.7 L1148.0,405.0 L1151.5,403.3 L1155.0,401.6 L1158.5,399.9 L1162.0,398.1 L1165.5,396.3 L1169.0,394.6 L1172.5,392.8 L1175.9,390.9 L1179.4,389.1 L1182.9,387.2 L1186.4,385.4 L1189.9,383.5 L1193.4,381.5 L1196.9,379.6 L1200.4,377.7 L1203.9,375.7 L1207.3,373.7 L1210.8,371.7 L1214.3,369.7 L1217.8,367.6 L1221.3,365.6 L1224.8,363.5 L1228.3,361.4 L1231.8,359.3 L1235.3,357.1 L1238.7,355.0 L1242.2,352.8 L1245.7,350.6 L1249.2,348.4 L1252.7,346.1" fill="none" stroke="#353e60" stroke-width="3" stroke-dasharray="12 9" stroke-dashoffset="-2.6"/>
<path d="M145.6,122.5V692.2H1237" fill="none" stroke="#000" stroke-width="2.8"/>
<path d="M138.3,122.5H145.6" stroke="#000" stroke-width="2.8"/>
<path d="M138.3,236.4H145.6" stroke="#000" stroke-width="2.8"/>
<path d="M138.3,350.3H145.6" stroke="#000" stroke-width="2.8"/>
<path d="M138.3,464.3H145.6" stroke="#000" stroke-width="2.8"/>
<path d="M138.3,578.2H145.6" stroke="#000" stroke-width="2.8"/>
<path d="M138.3,692.2H145.6" stroke="#000" stroke-width="2.8"/>
<path d="M145.6,692V699.3" stroke="#000" stroke-width="2.8"/>
<path d="M247.7,692V699.3" stroke="#000" stroke-width="2.8"/>
<path d="M350.9,692V699.3" stroke="#000" stroke-width="2.8"/>
<path d="M452.4,692V699.3" stroke="#000" stroke-width="2.8"/>
<path d="M555.6,692V699.3" stroke="#000" stroke-width="2.8"/>
<path d="M657.1,692V699.3" stroke="#000" stroke-width="2.8"/>
<path d="M760.3,692V699.3" stroke="#000" stroke-width="2.8"/>
<path d="M861.9,692V699.3" stroke="#000" stroke-width="2.8"/>
<path d="M965.1,692V699.3" stroke="#000" stroke-width="2.8"/>
<path d="M1067.2,692V699.3" stroke="#000" stroke-width="2.8"/>
<path d="M1170.4,692V699.3" stroke="#000" stroke-width="2.8"/>
<defs>
<clipPath id="cc"><rect x="190" y="124.5" width="184" height="265.5"/></clipPath>
<linearGradient id="sky" x1="0" y1="0" x2="0" y2="1">
<stop offset="0" stop-color="#2c3e7b"/>
<stop offset="0.3" stop-color="#34457a"/>
<stop offset="0.55" stop-color="#4f5a78"/>
<stop offset="0.8" stop-color="#857f6e"/>
<stop offset="1" stop-color="#a89a70"/>
</linearGradient>
<radialGradient id="glow" cx="325" cy="275" r="100" gradientUnits="userSpaceOnUse" gradientTransform="translate(325 275) scale(1.25 0.9) translate(-325 -275)">
<stop offset="0" stop-color="#cdb97c" stop-opacity="1"/>
<stop offset="0.45" stop-color="#c1ad76" stop-opacity="0.9"/>
<stop offset="0.75" stop-color="#a49872" stop-opacity="0.45"/>
<stop offset="1" stop-color="#6a7074" stop-opacity="0"/>
</radialGradient>
<linearGradient id="ground" x1="0" y1="0" x2="0" y2="1">
<stop offset="0" stop-color="#33467a"/>
<stop offset="1" stop-color="#30437c"/>
</linearGradient>
<radialGradient id="gglow" cx="347" cy="279" r="60" gradientUnits="userSpaceOnUse">
<stop offset="0" stop-color="#b5a675" stop-opacity="0.8"/>
<stop offset="0.5" stop-color="#7f8080" stop-opacity="0.35"/>
<stop offset="1" stop-color="#44507a" stop-opacity="0"/>
</radialGradient>
<filter id="bl2" x="-50%" y="-50%" width="200%" height="200%"><feGaussianBlur stdDeviation="2"/></filter>
<filter id="bl4" x="-50%" y="-50%" width="200%" height="200%"><feGaussianBlur stdDeviation="4"/></filter>
<filter id="cloud" x="0" y="0" width="1" height="1" filterUnits="objectBoundingBox">
<feTurbulence type="fractalNoise" baseFrequency="0.045 0.09" numOctaves="4" seed="7" result="n"/>
<feColorMatrix in="n" type="matrix" values="0 0 0 0 0.70  0 0 0 0 0.64  0 0 0 0 0.46  0 0 0 3.2 -1.45" result="c"/>
<feGaussianBlur in="c" stdDeviation="0.6" result="cb"/>
<feComposite in="cb" in2="SourceGraphic" operator="in"/>
</filter>
<filter id="cloud2" x="0" y="0" width="1" height="1" filterUnits="objectBoundingBox">
<feTurbulence type="fractalNoise" baseFrequency="0.05 0.1" numOctaves="4" seed="23" result="n"/>
<feColorMatrix in="n" type="matrix" values="0 0 0 0 0.22  0 0 0 0 0.25  0 0 0 0 0.34  0 0 0 3.0 -1.3" result="c"/>
<feGaussianBlur in="c" stdDeviation="0.5" result="cb"/>
<feComposite in="cb" in2="SourceGraphic" operator="in"/>
</filter>
<linearGradient id="cmask" x1="0" y1="0" x2="0" y2="1">
<stop offset="0" stop-color="#fff" stop-opacity="0"/>
<stop offset="0.35" stop-color="#fff" stop-opacity="0.9"/>
<stop offset="0.8" stop-color="#fff" stop-opacity="0.8"/>
<stop offset="1" stop-color="#fff" stop-opacity="0"/>
</linearGradient>
<radialGradient id="cmr" cx="250" cy="222" r="95" gradientUnits="userSpaceOnUse" gradientTransform="translate(250 222) scale(1 0.6) translate(-250 -222)">
<stop offset="0" stop-color="#fff" stop-opacity="1"/>
<stop offset="0.6" stop-color="#fff" stop-opacity="0.8"/>
<stop offset="1" stop-color="#fff" stop-opacity="0"/>
</radialGradient>
<mask id="cm" maskUnits="userSpaceOnUse" x="190" y="124" width="184" height="160"><rect x="190" y="124" width="184" height="160" fill="url(#cmr)"/></mask>
<radialGradient id="wmr" cx="335" cy="320" r="60" gradientUnits="userSpaceOnUse">
<stop offset="0" stop-color="#fff" stop-opacity="1"/>
<stop offset="1" stop-color="#fff" stop-opacity="0"/>
</radialGradient>
<mask id="wm" maskUnits="userSpaceOnUse" x="190" y="279" width="184" height="111"><rect x="190" y="279" width="184" height="111" fill="url(#wmr)"/></mask>
</defs>
<g clip-path="url(#cc)">
<rect x="190" y="124.5" width="184" height="154" fill="url(#sky)"/>
<rect x="190" y="124.5" width="184" height="154" fill="url(#glow)"/>
<g mask="url(#cm)">
<rect x="190" y="150" width="184" height="130" fill="#fff" filter="url(#cloud2)" opacity="0.9"/>
<rect x="190" y="150" width="184" height="130" fill="#fff" filter="url(#cloud)" opacity="0.42"/>
</g>
<rect x="190" y="278.3" width="184" height="112" fill="url(#ground)"/>
<path d="M278,390 L343,280 L352,280 L374,330 L374,390Z" fill="#6d7590" opacity="0.4" filter="url(#bl4)"/>
<g mask="url(#wm)"><rect x="260" y="279" width="114" height="111" fill="#fff" filter="url(#cloud)" opacity="0.35"/></g>
<rect x="190" y="278.3" width="184" height="112" fill="url(#gglow)"/>
<g stroke="#c9b680" stroke-width="2" opacity="0.35" filter="url(#bl2)">
<path d="M345,279 L310,300"/><path d="M345,279 L330,330"/><path d="M345,279 L365,320"/><path d="M345,279 L374,292"/><path d="M345,279 L372,262"/>
</g>
<rect x="190" y="274" width="184" height="5" fill="#b9a978" opacity="0.5" filter="url(#bl2)"/>
<text x="286" y="294" font-family="Liberation Sans" font-size="23" fill="#b4a67e" opacity="0.6" letter-spacing="-0.5">10</text>
<text x="213" y="309.8" font-family="Liberation Sans" font-weight="bold" font-size="15" fill="#eef0f2">The Dawning</text>
<text x="213" y="325.4" font-family="Liberation Sans" font-weight="bold" font-size="15" fill="#eef0f2">of a Golden</text>
<text x="213" y="340.8" font-family="Liberation Sans" font-weight="bold" font-size="15" fill="#eef0f2">Decade</text>
<rect x="302" y="139.5" width="22.7" height="15.3" fill="#c9bd8a"/>
<rect x="325.7" y="155.3" width="35.3" height="14.4" fill="#c9bd8a"/>
<text x="293" y="150.5" font-family="Liberation Sans" font-size="8" fill="#d8d8d8">in</text>
<text x="304" y="150.5" font-family="Liberation Sans" font-weight="bold" font-size="8" fill="#f4f0e0">gold</text>
<text x="327.5" y="150.5" font-family="Liberation Sans" font-size="8" fill="#d8d8d8">we trust</text>
<text x="331" y="165.5" font-family="Liberation Sans" font-weight="bold" font-style="italic" font-size="8.5" fill="#f8f4e4">.report</text>
<text x="361" y="193.5" text-anchor="end" font-family="Liberation Sans" font-size="6.5" fill="#c8c8c0">May 07, 2020</text>
<text x="361" y="201.5" text-anchor="end" font-family="Liberation Sans" font-size="6.5" fill="#c8c8c0">Extended Version</text>
<text x="361" y="363" text-anchor="end" font-family="Liberation Sans" font-weight="bold" font-size="7" fill="#a9a080">Ronald-Peter Stöferle</text>
<text x="361" y="370" text-anchor="end" font-family="Liberation Sans" font-weight="bold" font-size="7" fill="#a9a080">&amp; Mark J. Valek</text>
<rect x="213" y="363" width="8" height="7" fill="#b2a77e"/>
<text x="223" y="369" font-family="Liberation Sans" font-weight="bold" font-size="6" fill="#aab0c8">incrementum</text>
</g>

<path d="M282.5,389.9 L220.9,543" stroke="#d9392f" stroke-width="3"/><path d="M210.4,538.8 L231.7,547.5 L212.4,564.9Z" fill="#e43a2a"/>
<g transform="translate(872 620) scale(0.0558)">
<path d="M34,828 V1147 H380 V1077 H104 V828Z" fill="#d5d5d9"/>
<path d="M1240,828 V1147 H852 V1077 H1170 V828Z" fill="#d5d5d9"/>
<path d="M34,40 H1240 V770 C1100,720 900,660 790,680 C760,720 748,820 751,1147 H502 C505,900 500,760 470,690 C350,650 150,710 34,770 Z" fill="#bba36d"/>
<g fill="#fff">
<path d="M34,30 H80 C60,60 45,80 34,95Z"/>
<path d="M320,30 H450 C470,150 540,300 610,510 C540,380 420,220 320,30Z"/>
<path d="M555,30 H645 C620,110 610,170 600,245 C590,170 575,110 555,30Z"/>
<path d="M745,30 H815 C770,180 730,330 705,510 C700,330 720,180 745,30Z"/>
<path d="M905,30 H995 C950,160 880,290 830,385 C850,260 880,150 905,30Z"/>
<path d="M1095,30 H1175 C1120,120 1060,220 1000,300 C1030,200 1060,120 1095,30Z"/>
<path d="M1250,240 V275 C1220,280 1190,285 1165,285 C1190,265 1220,250 1250,240Z"/>
<path d="M1250,630 V660 C1210,660 1180,655 1150,650 C1180,640 1210,635 1250,630Z"/>
<path d="M25,600 V660 C80,645 120,635 150,628 C110,620 70,610 25,600Z"/>
</g>
<g fill="none" stroke="#fff" stroke-linecap="round">
<path d="M30,95 C140,150 240,210 320,280" stroke-width="55"/>
<path d="M30,280 C180,320 330,390 440,470" stroke-width="55"/>
<path d="M30,470 C200,500 380,560 520,640" stroke-width="52"/>
<path d="M1250,350 C1050,380 880,460 775,605" stroke-width="56"/>
<path d="M1250,495 C1120,510 1020,540 950,580" stroke-width="52"/>
</g>
</g>
<text x="971.5" y="0" transform="translate(0 666.8) scale(1 0.9)" font-family="Liberation Sans" font-size="42" fill="#33426f" stroke="#33426f" stroke-width="1.1" letter-spacing="1.7">incrementum</text>

</svg>
</body></html>
